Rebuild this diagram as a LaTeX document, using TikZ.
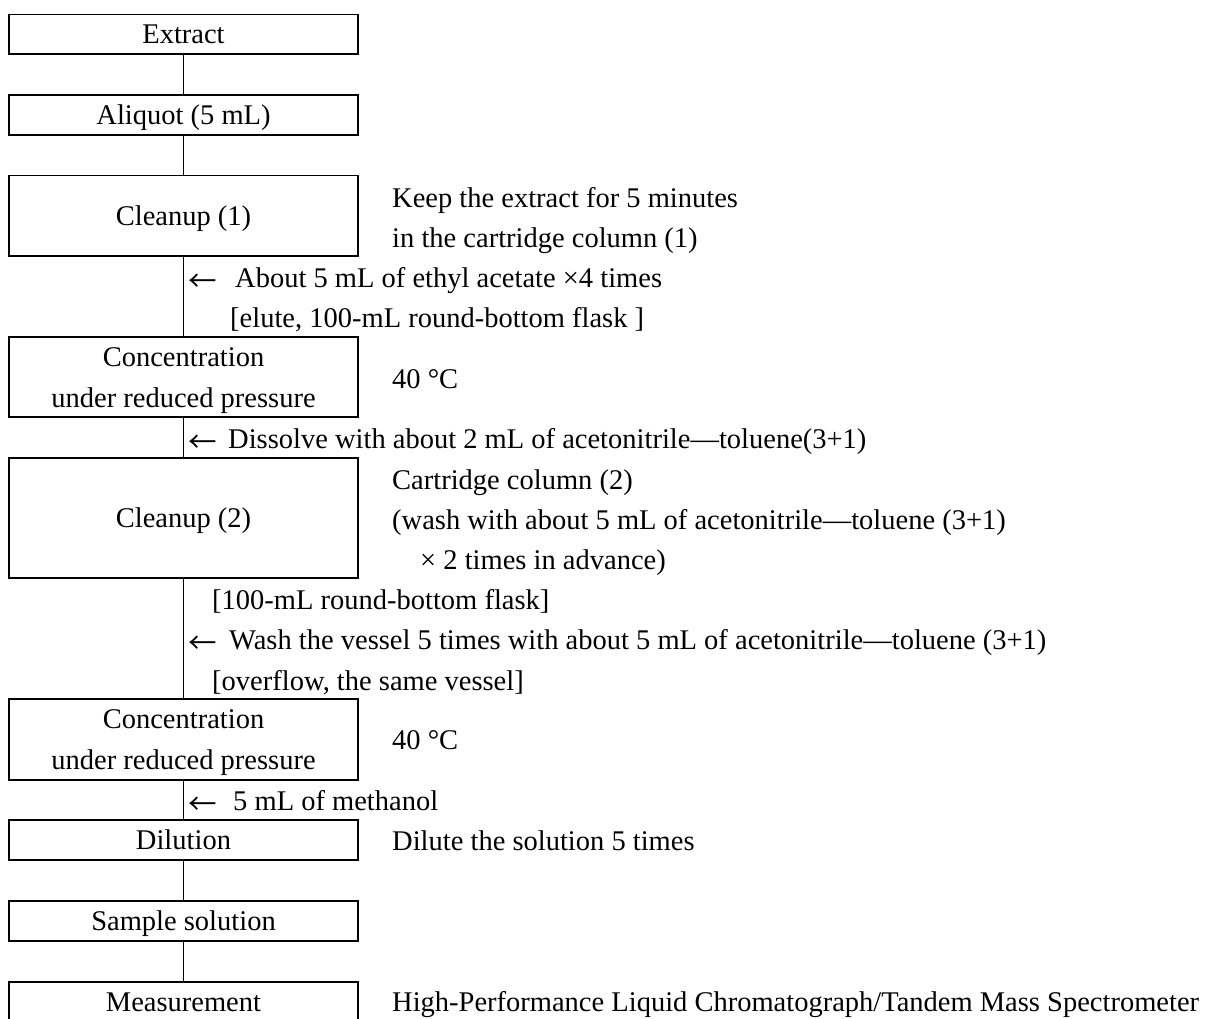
\documentclass[tikz,border=0pt]{standalone}
\usepackage{fontspec}
\setmainfont{Liberation Serif}
\newfontfamily\cjk{Noto Sans CJK JP}
\newcommand{\fs}{\fontsize{28.5}{41}\selectfont}
\newcommand{\lift}{\rule{0pt}{26pt}}
\begin{document}
\begin{tikzpicture}[x=1pt,y=-1pt,
  box/.style={draw, line width=1.5pt, minimum width=349pt, inner sep=0pt, align=center, font=\fs},
  one/.style={text height=19pt, text depth=0pt},
  lbl/.style={anchor=base west, inner sep=0pt, font=\fs},
  arr/.style={anchor=base west, inner sep=0pt, font=\fs\cjk, yshift=-4pt},
  conn/.style={line width=1.5pt}]
\useasboundingbox (0,0) rectangle (1217,1018);
\clip (0,0) rectangle (1217,1018);
% boxes
\node[box, one, minimum height=39.5pt] (extract) at (183.5,34.25) {Extract};
\node[box, one, minimum height=40pt] (aliquot) at (183.5,115) {Aliquot (5 mL)};
\node[box, one, minimum height=80.5pt] (clean1) at (183.5,215.75) {Cleanup (1)};
\node[box, minimum height=80pt] (conc1) at (183.5,377) {\lift Concentration\\under reduced pressure};
\node[box, one, minimum height=120pt] (clean2) at (183.5,518) {Cleanup (2)};
\node[box, minimum height=81pt] (conc2) at (183.5,739.5) {\lift Concentration\\under reduced pressure};
\node[box, one, minimum height=40pt] (dil) at (183.5,840) {Dilution};
\node[box, one, minimum height=40pt] (sample) at (183.5,921) {Sample solution};
\node[box, one, minimum height=40pt] (meas) at (183.5,1002) {Measurement};
% connectors
\draw[conn] (extract) -- (aliquot);
\draw[conn] (aliquot) -- (clean1);
\draw[conn] (clean1) -- (conc1);
\draw[conn] (conc1) -- (clean2);
\draw[conn] (clean2) -- (conc2);
\draw[conn] (conc2) -- (dil);
\draw[conn] (dil) -- (sample);
\draw[conn] (sample) -- (meas);
% side labels
\node[lbl] (k1) at (392,207) {Keep the extract for 5 minutes};
\node[lbl] (k2) at (392,247) {in the cartridge column (1)};
\node[arr] (a1) at (188,287) {←};
\node[lbl] (t1) at (235,287) {About 5 mL of ethyl acetate ×4 times};
\node[lbl] (t2) at (230,327) {[elute, 100-mL round-bottom flask ]};
\node[lbl] (c1) at (392,388) {40 °C};
\node[arr] (a2) at (188,448) {←};
\node[lbl] (t3) at (228,448) {Dissolve with about 2 mL of acetonitrile—toluene(3+1)};
\node[lbl] (w1) at (392,489) {Cartridge column (2)};
\node[lbl] (w2) at (392,529) {(wash with about 5 mL of acetonitrile—toluene (3+1)};
\node[lbl] (w3) at (420,569) {× 2 times in advance)};
\node[lbl] (t4) at (212,609) {[100-mL round-bottom flask]};
\node[arr] (a3) at (188,649) {←};
\node[lbl] (t5) at (229,649) {Wash the vessel 5 times with about 5 mL of acetonitrile—toluene (3+1)};
\node[lbl] (t6) at (212,690) {[overflow, the same vessel]};
\node[lbl] (c2) at (392,749) {40 °C};
\node[arr] (a4) at (188,810) {←};
\node[lbl] (t7) at (233,810) {5 mL of methanol};
\node[lbl] (d1) at (392,850) {Dilute the solution 5 times};
\node[lbl] (h1) at (392,1011) {High-Performance Liquid Chromatograph/Tandem Mass Spectrometer};
\end{tikzpicture}
\end{document}
